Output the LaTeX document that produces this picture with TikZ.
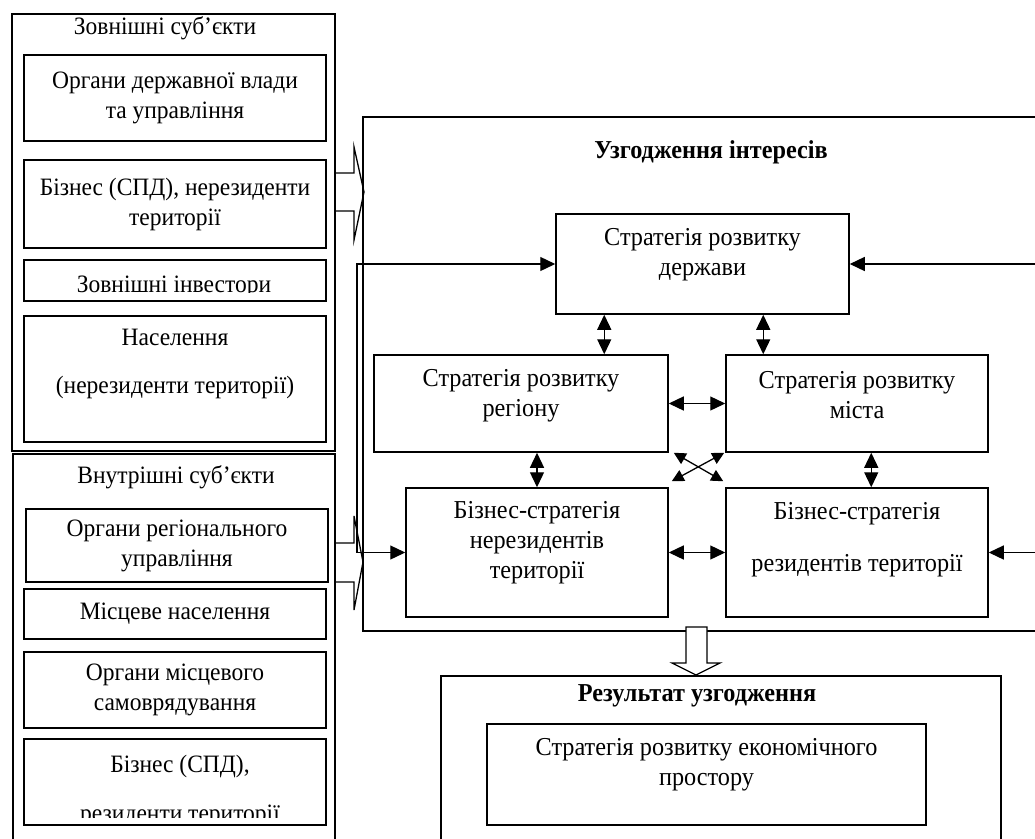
\documentclass[tikz,border=0pt]{standalone}
\usepackage{fontspec}
\setmainfont{Liberation Serif}[FakeStretch=0.94]
\usetikzlibrary{arrows.meta,calc}

\begin{document}
\begin{tikzpicture}[x=1pt,y=-1pt,
    >={Triangle[length=15pt,width=14pt]},
    box/.style={draw, line width=1.5pt, inner sep=0pt, align=center},
    subj/.style={font=\fontsize{25}{30}\selectfont, align=center},
    strat/.style={font=\fontsize{25.8}{30}\selectfont, align=center},
    head/.style={font=\bfseries\fontsize{25.8}{30}\selectfont},
    conn/.style={line width=1.3pt},
    small/.style={>={Triangle[length=12pt,width=12pt]}}]
  \useasboundingbox (0,0) rectangle (1035,838);

  % зовнішні та внутрішні суб'єкти
  \node[box, minimum width=323pt, minimum height=437pt, anchor=north west] (ext) at (11,13) {};
  \node[box, minimum width=322pt, minimum height=400pt, anchor=north west] (int) at (12,453) {};
  \node[subj] (exttitle) at (165,28) {Зовнішні суб’єкти};
  \node[subj] (inttitle) at (176,477) {Внутрішні суб’єкти};

  \node[box, subj, minimum width=302pt, minimum height=86pt] (ovv) at (175,98) {Органи державної влади\\та управління};
  \node[box, subj, minimum width=302pt, minimum height=88pt] (bns) at (175,204) {Бізнес (СПД), нерезиденти\\території};
  \node[box, minimum width=302pt, minimum height=41pt] (inv) at (175,280.5) {};
  \begin{scope}
    \clip (24,262) rectangle (326,292);
    \node[subj, anchor=base] (invtext) at (174,292) {Зовнішні інвестори};
  \end{scope}
  \node[box, minimum width=302pt, minimum height=126pt,
    label={[subj, yshift=15pt]center:{Населення\\[18pt](нерезиденти території)}}] (nas) at (175,379) {};

  \node[box, subj, minimum width=302pt, minimum height=73pt] (org) at (177,545.5) {Органи регіонального\\управління};
  \node[box, subj, minimum width=302pt, minimum height=50pt] (mis) at (175,614) {Місцеве населення};
  \node[box, subj, minimum width=302pt, minimum height=76pt] (oms) at (175,690) {Органи місцевого\\самоврядування};
  \node[box, minimum width=302pt, minimum height=86pt] (bres) at (175,782) {};
  \begin{scope}
    \clip (24,741) rectangle (326,817);
    \node[subj] (brestext) at (180,790.5) {Бізнес (СПД),\\[19pt]резиденти території};
  \end{scope}

  % узгодження інтересів
  \node[box, minimum width=700pt, minimum height=514pt, anchor=north west] (agree) at (362,116) {};
  \node[head] (agreetitle) at (711,152) {Узгодження інтересів};

  \node[box, minimum width=293pt, minimum height=100pt,
    label={[strat, yshift=9pt]center:{Стратегія розвитку\\держави}}] (derzh) at (702.5,264) {};
  \node[box, minimum width=294pt, minimum height=97pt,
    label={[strat, yshift=8pt]center:{Стратегія розвитку\\регіону}}] (region) at (521,403.5) {};
  \node[box, minimum width=262pt, minimum height=97pt,
    label={[strat, yshift=8pt]center:{Стратегія розвитку\\міста}}] (city) at (857,403.5) {};
  \node[box, minimum width=262pt, minimum height=129pt,
    label={[strat, yshift=10pt]center:{Бізнес-стратегія\\нерезидентів\\території}}] (nonres) at (537,552.5) {};
  \node[box, minimum width=262pt, minimum height=129pt,
    label={[strat, yshift=13pt]center:{Бізнес-стратегія\\[22pt]резидентів території}}] (res) at (857,552.5) {};

  % результат
  \node[box, minimum width=560pt, minimum height=185pt, anchor=north west] (result) at (440,675) {};
  \node[head] (resulttitle) at (697,696) {Результат узгодження};
  \node[box, minimum width=439pt, minimum height=101pt,
    label={[strat, yshift=10pt]center:{Стратегія розвитку економічного\\простору}}] (econ) at (706.5,774.5) {};

  % широкі стрілки
  \draw[conn] (334,173) -- (354,173) -- (354,147) -- (364,192) -- (354,240) -- (354,211) -- (334,211);
  \draw[conn] (334,543) -- (354,543) -- (354,516) -- (363,562) -- (354,610) -- (354,582) -- (334,582);
  \draw[conn, fill=white] (686,627) -- (707,627) -- (707,663) -- (720,663) -- (696,675) -- (672,663) -- (686,663) -- cycle;

  % зв'язки
  \coordinate (fbl) at (357,552.5);
  \coordinate (redge) at (1045,0);
  \draw[conn,<->] (derzh.west) -| (fbl) -- (nonres.west);
  \draw[conn,->] (derzh.east -| redge) -- (derzh.east);
  \draw[conn,->] (res.east -| redge) -- (res.east);

  \draw[conn,<->] ([xshift=49pt]derzh.south west) -- ([xshift=49pt]derzh.south west |- region.north);
  \draw[conn,<->] ([xshift=208pt]derzh.south west) -- ([xshift=208pt]derzh.south west |- city.north);
  \draw[conn,<->] (nonres.north |- region.south) -- (nonres.north);
  \draw[conn,<->] ([xshift=146pt]city.south west) -- ([xshift=146pt]res.north west);
  \draw[conn,<->] (region.east) -- (city.west);
  \draw[conn,<->] (nonres.east) -- (res.west);
  \draw[conn,small,<->] ([xshift=5pt]region.south east) -- ([xshift=-2pt,yshift=6pt]res.north west);
  \draw[conn,small,<->] ([xshift=-1pt]city.south west) -- ([xshift=3pt,yshift=6pt]nonres.north east);
\end{tikzpicture}
\end{document}
